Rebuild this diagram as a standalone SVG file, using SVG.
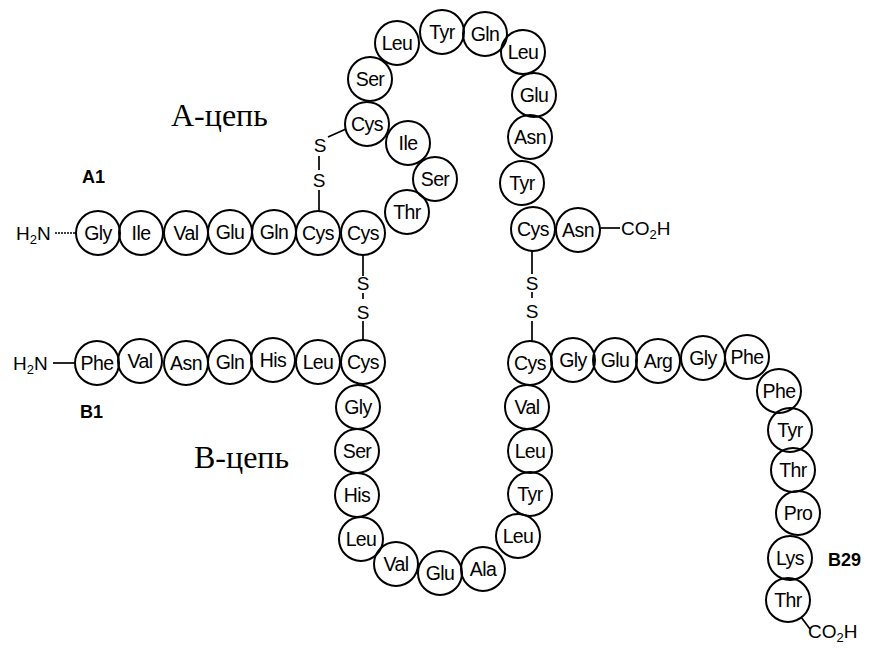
<svg xmlns="http://www.w3.org/2000/svg" width="874" height="651" viewBox="0 0 874 651">
  <style>
    .res text { font-family: "Liberation Sans", Arial, sans-serif; font-size: 19.5px; text-anchor: middle; fill: #000; letter-spacing: -0.6px; }
    .lbl { font-family: "Liberation Sans", Arial, sans-serif; font-size: 19px; fill: #000; }
    .bold { font-family: "Liberation Sans", Arial, sans-serif; font-size: 18px; font-weight: bold; fill: #000; }
    .chain { font-family: "Liberation Serif", "Times New Roman", serif; font-size: 32px; fill: #000; }
    .ss { font-family: "Liberation Sans", Arial, sans-serif; font-size: 19px; text-anchor: middle; fill: #000; }
    #connectors line { stroke: #000; stroke-width: 1.7; }
  </style>
  <defs>
    <!-- residue ring, shared by every amino acid -->
    <circle id="ring" r="22" fill="none" stroke="#000" stroke-width="2"/>
  </defs>
  <rect width="874" height="651" fill="#fff"/>

  <!-- connectors: terminal bonds and disulfide bridges -->
  <g id="connectors">
    <line x1="55" y1="233" x2="76" y2="233" stroke-dasharray="2 1"/>
    <line x1="53" y1="363" x2="75" y2="363"/>
    <line x1="600" y1="228" x2="620" y2="228"/>
    <line x1="801" y1="617" x2="810" y2="629"/>
    <!-- A6-A11 -->
    <line x1="346" y1="129" x2="328" y2="137"/>
    <line x1="319" y1="156" x2="319" y2="170"/>
    <line x1="319" y1="190" x2="319" y2="211"/>
    <!-- A7-B7 -->
    <line x1="363" y1="255" x2="363" y2="276"/>
    <line x1="363" y1="293" x2="363" y2="299"/>
    <line x1="363" y1="321" x2="363" y2="340"/>
    <!-- A20-B19 -->
    <line x1="532" y1="251" x2="532" y2="274"/>
    <line x1="532" y1="292" x2="532" y2="298"/>
    <line x1="532" y1="321" x2="532" y2="341"/>
  </g>
  <g id="bridge-labels">
    <text class="ss" x="320" y="152">S</text>
    <text class="ss" x="319" y="187">S</text>
    <text class="ss" x="363" y="290">S</text>
    <text class="ss" x="363" y="319">S</text>
    <text class="ss" x="532" y="290">S</text>
    <text class="ss" x="532" y="318">S</text>
  </g>

  <!-- A chain -->
  <g class="res">
    <g id="A1"><use href="#ring" x="98" y="233"/><text x="98" y="240">Gly</text></g>
    <g id="A2"><use href="#ring" x="141" y="233"/><text x="141" y="240">Ile</text></g>
    <g id="A3"><use href="#ring" x="186" y="233"/><text x="186" y="240">Val</text></g>
    <g id="A4"><use href="#ring" x="230" y="232"/><text x="230" y="239">Glu</text></g>
    <g id="A5"><use href="#ring" x="274" y="232"/><text x="274" y="239">Gln</text></g>
    <g id="A6"><use href="#ring" x="318" y="233"/><text x="318" y="240">Cys</text></g>
    <g id="A7"><use href="#ring" x="363" y="233"/><text x="363" y="240">Cys</text></g>
    <g id="A8"><use href="#ring" x="407" y="212"/><text x="407" y="219">Thr</text></g>
    <g id="A9"><use href="#ring" x="435" y="179"/><text x="435" y="186">Ser</text></g>
    <g id="A10"><use href="#ring" x="408" y="143"/><text x="408" y="150">Ile</text></g>
    <g id="A11"><use href="#ring" x="367" y="124"/><text x="367" y="131">Cys</text></g>
    <g id="A12"><use href="#ring" x="370" y="79"/><text x="370" y="86">Ser</text></g>
    <g id="A13"><use href="#ring" x="397" y="43"/><text x="397" y="50">Leu</text></g>
    <g id="A14"><use href="#ring" x="442" y="32"/><text x="442" y="39">Tyr</text></g>
    <g id="A15"><use href="#ring" x="485" y="34"/><text x="485" y="41">Gln</text></g>
    <g id="A16"><use href="#ring" x="523" y="52"/><text x="523" y="59">Leu</text></g>
    <g id="A17"><use href="#ring" x="534" y="95"/><text x="534" y="102">Glu</text></g>
    <g id="A18"><use href="#ring" x="530" y="137"/><text x="530" y="144">Asn</text></g>
    <g id="A19"><use href="#ring" x="522" y="183"/><text x="522" y="190">Tyr</text></g>
    <g id="A20"><use href="#ring" x="533" y="229"/><text x="533" y="236">Cys</text></g>
    <g id="A21"><use href="#ring" x="578" y="230"/><text x="578" y="237">Asn</text></g>
  </g>

  <!-- B chain -->
  <g class="res">
    <g id="B1"><use href="#ring" x="97" y="363"/><text x="97" y="370">Phe</text></g>
    <g id="B2"><use href="#ring" x="140" y="361"/><text x="140" y="368">Val</text></g>
    <g id="B3"><use href="#ring" x="186" y="363"/><text x="186" y="370">Asn</text></g>
    <g id="B4"><use href="#ring" x="230" y="362"/><text x="230" y="369">Gln</text></g>
    <g id="B5"><use href="#ring" x="273" y="360"/><text x="273" y="367">His</text></g>
    <g id="B6"><use href="#ring" x="318" y="362"/><text x="318" y="369">Leu</text></g>
    <g id="B7"><use href="#ring" x="363" y="362"/><text x="363" y="369">Cys</text></g>
    <g id="B8"><use href="#ring" x="358" y="407"/><text x="358" y="414">Gly</text></g>
    <g id="B9"><use href="#ring" x="357" y="451"/><text x="357" y="458">Ser</text></g>
    <g id="B10"><use href="#ring" x="357" y="495"/><text x="357" y="502">His</text></g>
    <g id="B11"><use href="#ring" x="361" y="539"/><text x="361" y="546">Leu</text></g>
    <g id="B12"><use href="#ring" x="396" y="564"/><text x="396" y="571">Val</text></g>
    <g id="B13"><use href="#ring" x="440" y="573"/><text x="440" y="580">Glu</text></g>
    <g id="B14"><use href="#ring" x="483" y="569"/><text x="483" y="576">Ala</text></g>
    <g id="B15"><use href="#ring" x="518" y="536"/><text x="518" y="543">Leu</text></g>
    <g id="B16"><use href="#ring" x="530" y="494"/><text x="530" y="501">Tyr</text></g>
    <g id="B17"><use href="#ring" x="530" y="451"/><text x="530" y="458">Leu</text></g>
    <g id="B18"><use href="#ring" x="527" y="407"/><text x="527" y="414">Val</text></g>
    <g id="B19"><use href="#ring" x="530" y="363"/><text x="530" y="370">Cys</text></g>
    <g id="B20"><use href="#ring" x="573" y="360"/><text x="573" y="367">Gly</text></g>
    <g id="B21"><use href="#ring" x="615" y="360"/><text x="615" y="367">Glu</text></g>
    <g id="B22"><use href="#ring" x="658" y="361"/><text x="658" y="368">Arg</text></g>
    <g id="B23"><use href="#ring" x="703" y="358"/><text x="703" y="365">Gly</text></g>
    <g id="B24"><use href="#ring" x="747" y="357"/><text x="747" y="364">Phe</text></g>
    <g id="B25"><use href="#ring" x="779" y="391"/><text x="779" y="398">Phe</text></g>
    <g id="B26"><use href="#ring" x="790" y="430"/><text x="790" y="437">Tyr</text></g>
    <g id="B27"><use href="#ring" x="793" y="470"/><text x="793" y="477">Thr</text></g>
    <g id="B28"><use href="#ring" x="798" y="513"/><text x="798" y="520">Pro</text></g>
    <g id="B29"><use href="#ring" x="790" y="558"/><text x="790" y="565">Lys</text></g>
    <g id="B30"><use href="#ring" x="788" y="600"/><text x="788" y="607">Thr</text></g>
  </g>

  <!-- termini and labels -->
  <g id="labels">
    <text class="lbl" x="16" y="240">H<tspan font-size="13" dy="4">2</tspan><tspan dy="-4">N</tspan></text>
    <text class="lbl" x="13" y="370">H<tspan font-size="13" dy="4">2</tspan><tspan dy="-4">N</tspan></text>
    <text class="lbl" x="621" y="235">CO<tspan font-size="13" dy="4">2</tspan><tspan dy="-4">H</tspan></text>
    <text class="lbl" x="808" y="638">CO<tspan font-size="13" dy="4">2</tspan><tspan dy="-4">H</tspan></text>
    <text class="bold" x="82" y="183">A1</text>
    <text class="bold" x="80" y="418">B1</text>
    <text class="bold" x="828" y="566">B29</text>
    <text class="chain" x="171" y="126">А-цепь</text>
    <text class="chain" x="194" y="468">В-цепь</text>
  </g>
</svg>
